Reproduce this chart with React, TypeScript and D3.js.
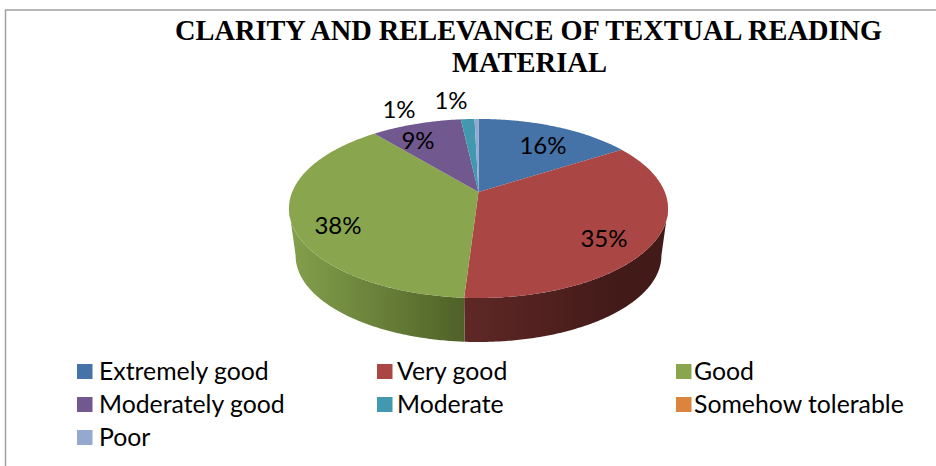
import React from "react";
import * as d3 from "d3";

const categories = ["Extremely good", "Very good", "Good", "Moderately good", "Moderate", "Somehow tolerable", "Poor"];
const values = [16, 35, 38, 9.2, 1.4, 0, 0.4];
const percentLabels = ["16%", "35%", "38%", "9%", "1%", "", "1%"];
const colors = ["#4572a7", "#aa4643", "#89a54e", "#71588f", "#4198af", "#db843d", "#93a9cf"];
const wallStops = [
  ["#2c4a70", "#22395a"],
  ["#5f2826", "#421a18"],
  ["#83a04c", "#4f6127"],
  ["#4a3a5e", "#4a3a5e"],
  ["#2b6473", "#2b6473"],
  ["#8f5628", "#8f5628"],
  ["#606e87", "#606e87"],
];
const titleLines = ["CLARITY AND RELEVANCE OF TEXTUAL READING", "MATERIAL"];
const titleWidths = [707, 155];
const labelPos = [
  [543, 146],
  [604, 239],
  [338, 226],
  [418, 141],
  [399, 110],
  [0, 0],
  [451, 101],
];
const legendSwatchX = [77, 377, 676];
const legendTextX = [99, 397, 694];
const legendRows = [364, 397, 430];

const W = 936, H = 466;
const cx = 478.5, apexY = 192, R = 186.3, B = 86.5, k = 0.184;
const apexYBottom = 239.7, sBottom = 0.965;
// Angles at which the projected rim reaches its left and right extremes.
const frontStart = Math.acos(-k);
const frontEnd = 2 * Math.PI - frontStart;

function project(a: number, s: number, ay: number): [number, number] {
  const u = Math.sin(a), v = -Math.cos(a);
  const d = 1 - k * v;
  return [cx + (s * R * u) / d, ay + (s * B * v) / d];
}
function arcPoints(a0: number, a1: number, s: number, ay: number) {
  const n = Math.max(2, Math.ceil((a1 - a0) / 0.01));
  const t = d3.scaleLinear().domain([0, n]).range([a0, a1]);
  return d3.range(n + 1).map((i) => project(t(i), s, ay));
}

export default function App() {
  const arcs = d3.pie<number>().sort(null)(values);
  const line = d3.line();
  const tops = arcs.map((d) => {
    const pts = arcPoints(d.startAngle, d.endAngle, 1, apexY);
    return line([[cx, apexY], ...pts])! + "Z";
  });
  const walls = arcs.map((d) => {
    const a0 = Math.max(d.startAngle, frontStart);
    const a1 = Math.min(d.endAngle, frontEnd);
    if (a1 <= a0) return "";
    const top = arcPoints(a0, a1, 1, apexY);
    const bottom = arcPoints(a0, a1, sBottom, apexYBottom).reverse();
    return line([...top, ...bottom])! + "Z";
  });
  return (
    <svg width={W} height={H} style={{ position: "fixed", left: 0, top: 0, background: "#fff" }}>
      <defs>
        {arcs.map((d, i) => (
          <linearGradient key={i} id={`wall${i}`} gradientUnits="userSpaceOnUse"
            x1={i === 2 ? 291 : 465} x2={i === 2 ? 465 : 620} y1={0} y2={0}>
            <stop offset="0" stopColor={wallStops[i][0]} />
            <stop offset="1" stopColor={wallStops[i][1]} />
          </linearGradient>
        ))}
      </defs>
      <path d={`M5.5,${H}V10H${W}`} fill="none" stroke="#a0a0a0" strokeWidth={1.5} />
      {titleLines.map((t, i) => (
        <text key={t} x={i === 0 ? 528.5 : 529.5} y={40 + i * 32} textAnchor="middle"
          style={{ fontFamily: "Liberation Serif", fontWeight: 700, fontSize: 29.5 }}
          textLength={titleWidths[i]} lengthAdjust="spacingAndGlyphs">{t}</text>
      ))}
      {walls.map((p, i) => p && <path key={i} d={p} fill={`url(#wall${i})`} />)}
      {tops.map((p, i) => <path key={i} d={p} fill={colors[i]} />)}
      {percentLabels.map((t, i) => t && (
        <text key={i} x={labelPos[i][0]} y={labelPos[i][1] + 8} textAnchor="middle"
          style={{ fontFamily: "Lato", fontSize: 24, fill: "#000" }}>{t}</text>
      ))}
      {categories.map((c, i) => {
        const col = i % 3, row = Math.floor(i / 3);
        const y = legendRows[row];
        return (
          <g key={c}>
            <rect x={legendSwatchX[col]} y={y} width={15.5} height={15} fill={colors[i]} />
            <text x={legendTextX[col]} y={y + 16} style={{ fontFamily: "Lato", fontSize: 24.8, fill: "#000" }}>{c}</text>
          </g>
        );
      })}
    </svg>
  );
}
